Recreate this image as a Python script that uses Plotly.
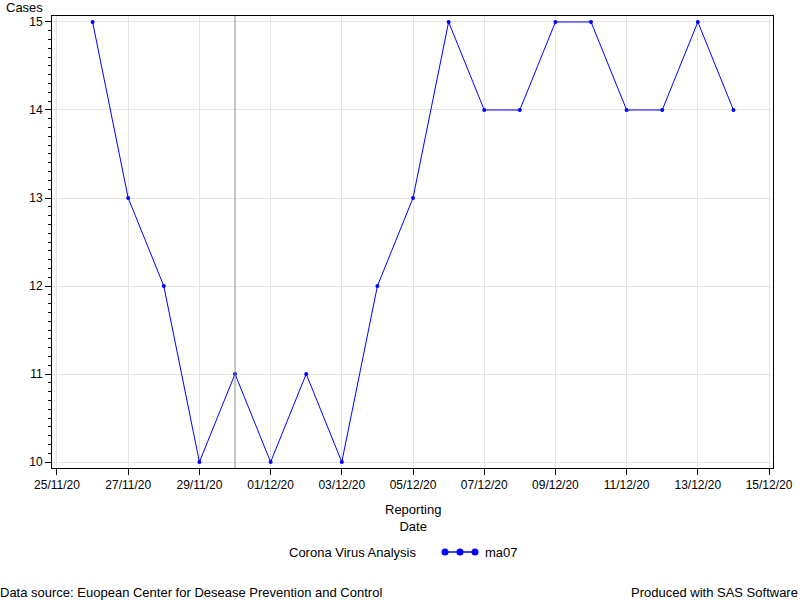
import plotly.graph_objects as go

dates = ["2020-11-26", "2020-11-27", "2020-11-28", "2020-11-29", "2020-11-30",
         "2020-12-01", "2020-12-02", "2020-12-03", "2020-12-04", "2020-12-05",
         "2020-12-06", "2020-12-07", "2020-12-08", "2020-12-09", "2020-12-10",
         "2020-12-11", "2020-12-12", "2020-12-13", "2020-12-14"]
ma07 = [15, 13, 12, 10, 11, 10, 11, 10, 12, 13, 15, 14, 14, 15, 15, 14, 14, 15, 14]
ref_date = "2020-11-30"

FONT = "Liberation Sans, Arial, sans-serif"
BLUE = "#0000FF"
TXT = dict(size=13, color="black")

# plot area in pixels
L, R, T, B = 52, 773, 16, 468
W, H = R - L, B - T


def px(x):
    return (x - L) / W


def py(y):
    return (B - y) / H


fig = go.Figure()
fig.add_trace(go.Scatter(
    x=dates, y=ma07, mode="lines+markers", name="ma07",
    line=dict(color=BLUE, width=1),
    marker=dict(color=BLUE, size=4),
    showlegend=False,
))

fig.add_shape(type="line", xref="x", yref="paper", x0=ref_date, x1=ref_date,
              y0=0, y1=1, line=dict(color="#8C8C8C", width=1), layer="above")

# legend drawn manually (SAS style with three dots)
fig.add_annotation(xref="paper", yref="paper", x=px(287), y=py(552), text="Corona Virus Analysis",
                   showarrow=False, xanchor="left", yanchor="middle", font=TXT)
fig.add_shape(type="line", xref="paper", yref="paper", x0=px(442), x1=px(478), y0=py(552), y1=py(552),
              line=dict(color=BLUE, width=1.5))
for cx in (445, 460, 475):
    fig.add_shape(type="circle", xref="paper", yref="paper",
                  x0=px(cx - 3.5), x1=px(cx + 3.5), y0=py(552 + 3.5), y1=py(552 - 3.5),
                  fillcolor=BLUE, line=dict(color=BLUE, width=0))
fig.add_annotation(xref="paper", yref="paper", x=px(483), y=py(552), text="ma07",
                   showarrow=False, xanchor="left", yanchor="middle", font=TXT)

# axis titles
fig.add_annotation(xref="paper", yref="paper", x=px(4), y=py(8), text="Cases",
                   showarrow=False, xanchor="left", yanchor="middle", font=TXT)
fig.add_annotation(xref="paper", yref="paper", x=0.5, y=py(518), text="Reporting<br>Date",
                   showarrow=False, xanchor="center", yanchor="middle", font=TXT)

# footnotes
fig.add_annotation(xref="paper", yref="paper", x=px(-2), y=py(592),
                   text="Data source: Euopean Center for Desease Prevention and Control",
                   showarrow=False, xanchor="left", yanchor="middle", font=TXT)
fig.add_annotation(xref="paper", yref="paper", x=px(800), y=py(592),
                   text="Produced with SAS Software",
                   showarrow=False, xanchor="right", yanchor="middle", font=TXT)

fig.update_layout(
    width=800, height=600,
    margin=dict(l=L, r=800 - R, t=T, b=600 - B, pad=0, autoexpand=False),
    paper_bgcolor="white", plot_bgcolor="white",
    font=dict(family=FONT, size=12, color="black"),
    showlegend=False,
)
fig.update_xaxes(
    type="date", automargin=False,
    range=["2020-11-24 20:38", "2020-12-15 02:40"],
    tick0="2020-11-25", dtick=2 * 86400000, tickformat="%d/%m/%y",
    showgrid=True, gridcolor="#E4E4E4", gridwidth=1,
    showline=True, mirror=True, linecolor="black", linewidth=1,
    ticks="outside", ticklen=6, tickcolor="black", tickwidth=1,
    zeroline=False,
)
fig.update_yaxes(
    automargin=False,
    range=[9.932, 15.068],
    tick0=10, dtick=1,
    showgrid=True, gridcolor="#E4E4E4", gridwidth=1,
    showline=True, mirror=True, linecolor="black", linewidth=1,
    ticks="outside", ticklen=6, tickcolor="black", tickwidth=1,
    minor=dict(dtick=0.1, ticks="outside", ticklen=3, tickcolor="black", showgrid=False),
    zeroline=False,
)

fig.write_html("out.html", config={"displayModeBar": False},
               post_script="document.body.style.margin='0';document.body.style.overflow='hidden';")
